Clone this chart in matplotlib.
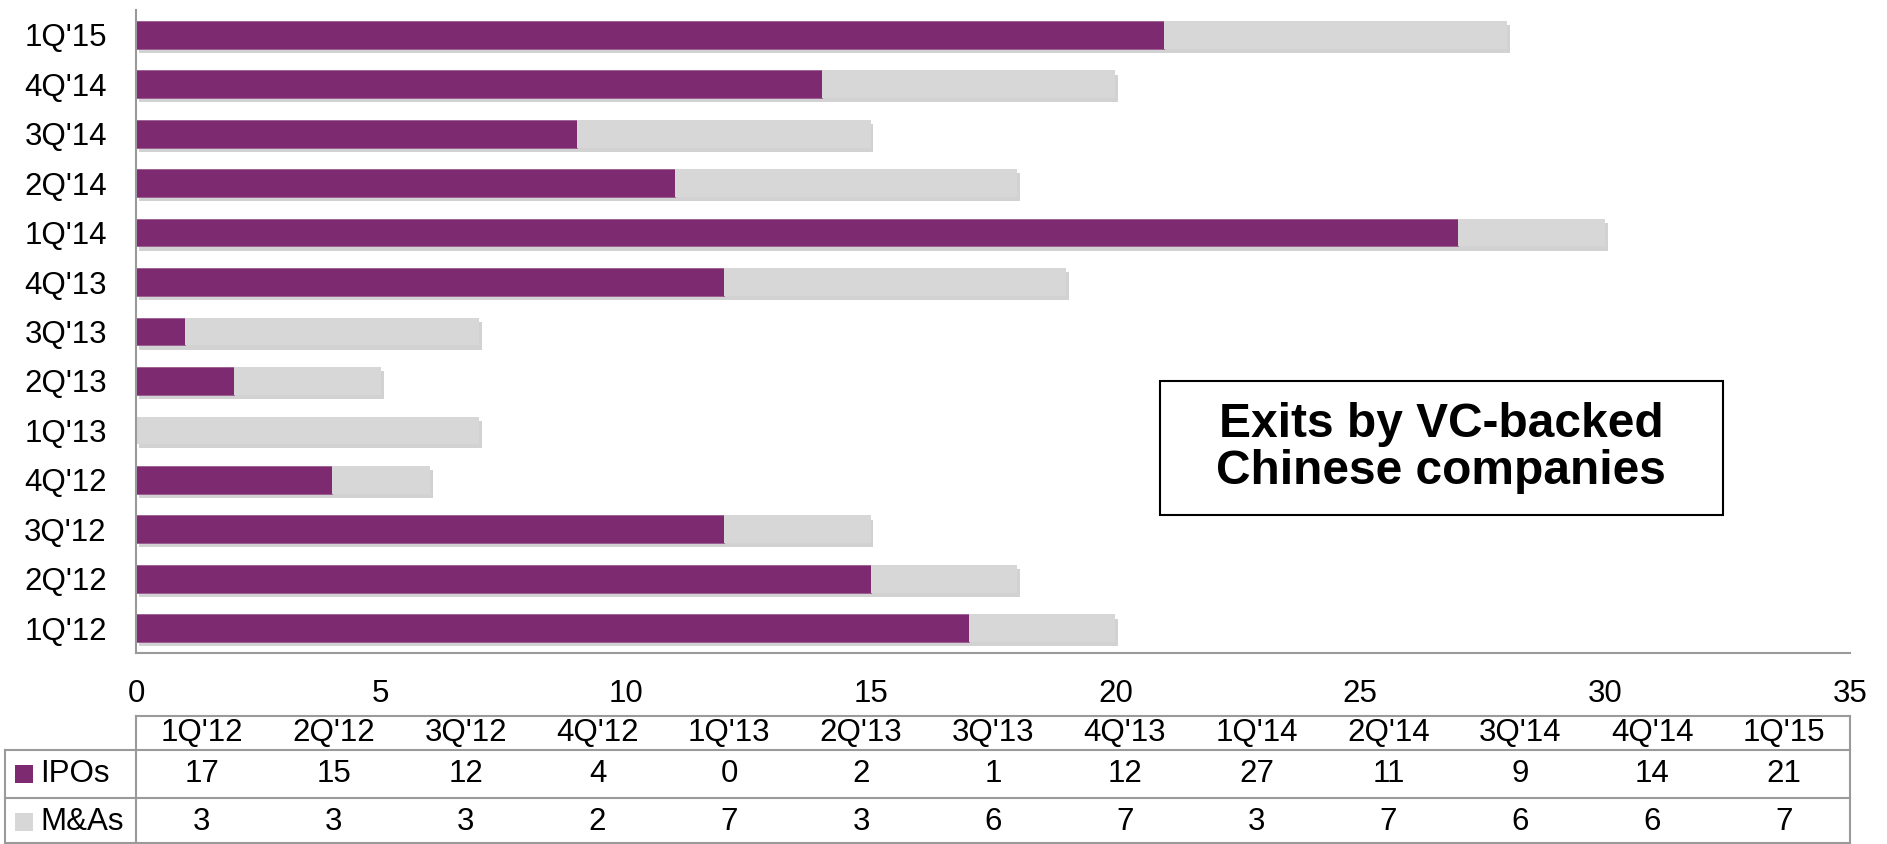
import matplotlib
matplotlib.use("Agg")
import matplotlib.pyplot as plt
import matplotlib.patheffects as pe
from matplotlib.patches import Rectangle
from matplotlib.transforms import blended_transform_factory

plt.rcParams["font.family"] = ["Liberation Sans", "DejaVu Sans"]

# 数据
quarters = ["1Q'12", "2Q'12", "3Q'12", "4Q'12", "1Q'13", "2Q'13", "3Q'13",
            "4Q'13", "1Q'14", "2Q'14", "3Q'14", "4Q'14", "1Q'15"]
ipos = [17, 15, 12, 4, 0, 2, 1, 12, 27, 11, 9, 14, 21]
mnas = [3, 3, 3, 2, 7, 3, 6, 7, 3, 7, 6, 6, 7]
series_names = ["IPOs", "M&As"]
x_ticks = [0, 5, 10, 15, 20, 25, 30, 35]
box_title = "Exits by VC-backed\nChinese companies"

PURPLE = "#7D2A70"
GRAY = "#D7D7D7"
LINE = "#9A9A9A"
FS = 22.5

W, H = 1887, 844
fig = plt.figure(figsize=(W / 100, H / 100), dpi=100)


def fy(py):
    # 像素 y（自上而下）转 figure 坐标
    return 1 - py / H


def fx(px):
    return px / W


ax = fig.add_axes([fx(136), fy(653), fx(1850) - fx(136), fy(10) - fy(653)])

shadow = [pe.SimplePatchShadow(offset=(2, -3), shadow_rgbFace="#808080", alpha=0.35),
          pe.Normal()]
ypos = list(range(len(quarters)))
b1 = ax.barh(ypos, ipos, height=0.56, color=PURPLE, edgecolor="#9A5A90", linewidth=0.6)
b2 = ax.barh(ypos, mnas, left=ipos, height=0.56, color=GRAY, linewidth=0)
for bar in list(b2) + list(b1):
    bar.set_path_effects(shadow)

ax.set_xlim(0, 35)
ax.set_ylim(-0.5, len(quarters) - 0.5)
ax.set_xticks(x_ticks)
ax.set_yticks(ypos)
ax.set_yticklabels(quarters)
ax.tick_params(axis="both", length=0, labelsize=FS, colors="black")
ax.tick_params(axis="x", pad=19)
ax.tick_params(axis="y", pad=21)
for side in ["top", "right"]:
    ax.spines[side].set_visible(False)
for side in ["left", "bottom"]:
    ax.spines[side].set_color(LINE)
    ax.spines[side].set_linewidth(1.5)

# 数据表
tr = blended_transform_factory(ax.transData, fig.transFigure)
left_col = -2.68
kw = dict(color=LINE, lw=1.5, transform=tr, clip_on=False)
ax.plot([0, 35], [fy(716)] * 2, **kw)
for py in [750, 798, 843]:
    ax.plot([left_col, 35], [fy(py)] * 2, **kw)
ax.plot([left_col, left_col], [fy(750), fy(844)], **kw)
ax.plot([0, 0], [fy(716), fy(844)], **kw)
ax.plot([35, 35], [fy(716), fy(844)], **kw)

col_w = 35 / len(quarters)
for i, q in enumerate(quarters):
    cx = (i + 0.5) * col_w
    ax.text(cx, fy(733), q, transform=tr, ha="center", va="center", fontsize=FS)
    ax.text(cx, fy(774), str(ipos[i]), transform=tr, ha="center", va="center", fontsize=FS)
    ax.text(cx, fy(822), str(mnas[i]), transform=tr, ha="center", va="center", fontsize=FS)

for name, color, cy in zip(series_names, [PURPLE, GRAY], [774, 822]):
    fig.patches.append(Rectangle((fx(15), fy(cy + 9)), fx(18), fy(cy - 9) - fy(cy + 9),
                                 transform=fig.transFigure, facecolor=color, edgecolor="none"))
    fig.text(fx(40), fy(cy), name, ha="left", va="center", fontsize=FS)

# 标题框
fig.patches.append(Rectangle((fx(1160), fy(515)), fx(1723) - fx(1160), fy(381) - fy(515),
                             transform=fig.transFigure, facecolor="white",
                             edgecolor="black", linewidth=1.5))
fig.text(fx(1441), fy(448), box_title, ha="center", va="center", fontsize=34.5,
         fontweight="bold", linespacing=1.05)

fig.savefig("out.png", dpi=100)
